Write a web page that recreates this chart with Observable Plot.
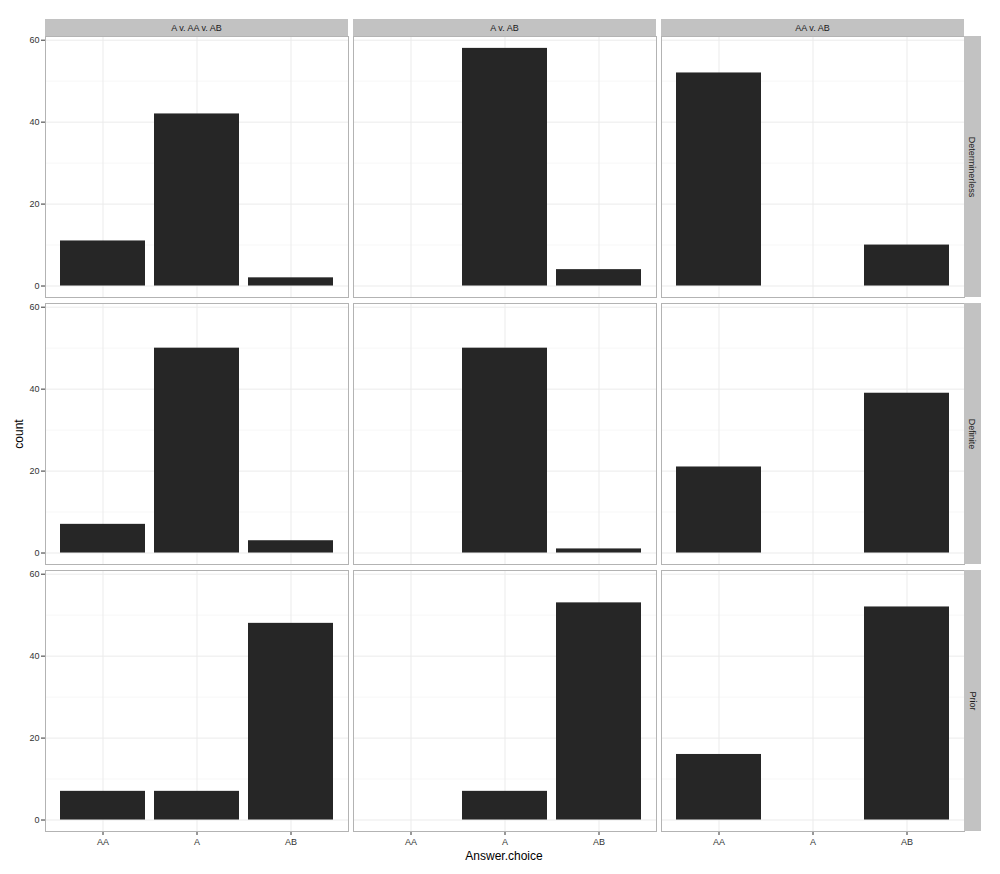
<!DOCTYPE html>
<html>
<head>
<meta charset="utf-8">
<script src="https://cdn.jsdelivr.net/npm/d3@7"></script>
<script src="https://cdn.jsdelivr.net/npm/@observablehq/plot@0.6"></script>
<style>
  body { margin: 0; background: #fff; }
  #chart { position: relative; width: 1000px; height: 874px; background: #fff; font-family: "Liberation Sans", Arial, sans-serif; }
  .strip { position: absolute; background: #c2c2c2; color: #1a1a1a; font-size: 9px; display: flex; align-items: center; justify-content: center; box-sizing: border-box; }
  .strip.right span { transform: rotate(90deg); white-space: nowrap; display: inline-block; }
  .title { position: absolute; color: #000; font-size: 12px; white-space: nowrap; }
</style>
</head>
<body>
<div id="chart"></div>
<script>
// ---- data ----
const rowLabels = ["Determinerless", "Definite", "Prior"];
const colLabels = ["A v. AA v. AB", "A v. AB", "AA v. AB"];
const choices = ["AA", "A", "AB"];
// counts per column (A v. AA v. AB, A v. AB, AA v. AB), each in choice order AA, A, AB
const determinerless = [[11, 42, 2], [0, 58, 4], [52, 0, 10]];
const definite       = [[7, 50, 3], [0, 50, 1], [21, 0, 39]];
const prior          = [[7, 7, 48], [0, 7, 53], [16, 0, 52]];
const yTicks = [0, 20, 40, 60];
const yMinor = [10, 30, 50];
const xTitle = "Answer.choice";
const yTitle = "count";

const table = [determinerless, definite, prior];

// ---- layout ----
const chart = document.getElementById("chart");
const W = 303, H = 261;
const colX = [45, 353, 661];
const rowY = [36, 303, 570];

for (let r = 0; r < 3; r++) {
  for (let c = 0; c < 3; c++) {
    const ml = c === 0 ? 45 : 0;
    const mb = r === 2 ? 24 : 0;
    const data = choices.map((k, i) => ({choice: k, count: table[r][c][i]}));
    const svg = Plot.plot({
      width: W + ml,
      height: H + mb,
      marginLeft: ml,
      marginRight: 0,
      marginTop: 0,
      marginBottom: mb,
      style: {fontSize: "9px", fontFamily: "Liberation Sans, Arial, sans-serif", color: "#333333", background: "transparent", overflow: "visible"},
      x: {type: "band", domain: choices, paddingInner: 0.1, paddingOuter: 0.15, align: 0.5,
          axis: r === 2 ? "bottom" : null, tickSize: 4, tickPadding: 3, label: null},
      y: {domain: [-2.8, 60.9], axis: c === 0 ? "left" : null, ticks: yTicks, tickSize: 4, tickPadding: 2, label: null},
      marks: [
        Plot.ruleY(yMinor, {stroke: "#f7f7f7"}),
        Plot.ruleY(yTicks, {stroke: "#ebebeb"}),
        Plot.ruleX(choices, {stroke: "#ebebeb"}),
        Plot.barY(data, {x: "choice", y: "count", fill: "#262626"}),
        Plot.frame({stroke: "#b3b3b3"})
      ]
    });
    svg.style.position = "absolute";
    svg.style.left = (colX[c] - ml) + "px";
    svg.style.top = rowY[r] + "px";
    chart.appendChild(svg);
  }
}

// top strips
colLabels.forEach((lab, c) => {
  const d = document.createElement("div");
  d.className = "strip";
  d.style.left = colX[c] + "px";
  d.style.top = "19px";
  d.style.width = W + "px";
  d.style.height = "17px";
  d.textContent = lab;
  chart.appendChild(d);
});
// right strips
rowLabels.forEach((lab, r) => {
  const d = document.createElement("div");
  d.className = "strip right";
  d.style.left = "964px";
  d.style.top = rowY[r] + "px";
  d.style.width = "17px";
  d.style.height = H + "px";
  const s = document.createElement("span");
  s.textContent = lab;
  d.appendChild(s);
  chart.appendChild(d);
});

// axis titles
const xt = document.createElement("div");
xt.className = "title";
xt.textContent = xTitle;
xt.style.left = "504px";
xt.style.top = "849px";
xt.style.transform = "translateX(-50%)";
chart.appendChild(xt);

const yt = document.createElement("div");
yt.className = "title";
yt.textContent = yTitle;
yt.style.left = "19px";
yt.style.top = "434px";
yt.style.transform = "translate(-50%, -50%) rotate(-90deg)";
chart.appendChild(yt);
</script>
</body>
</html>
